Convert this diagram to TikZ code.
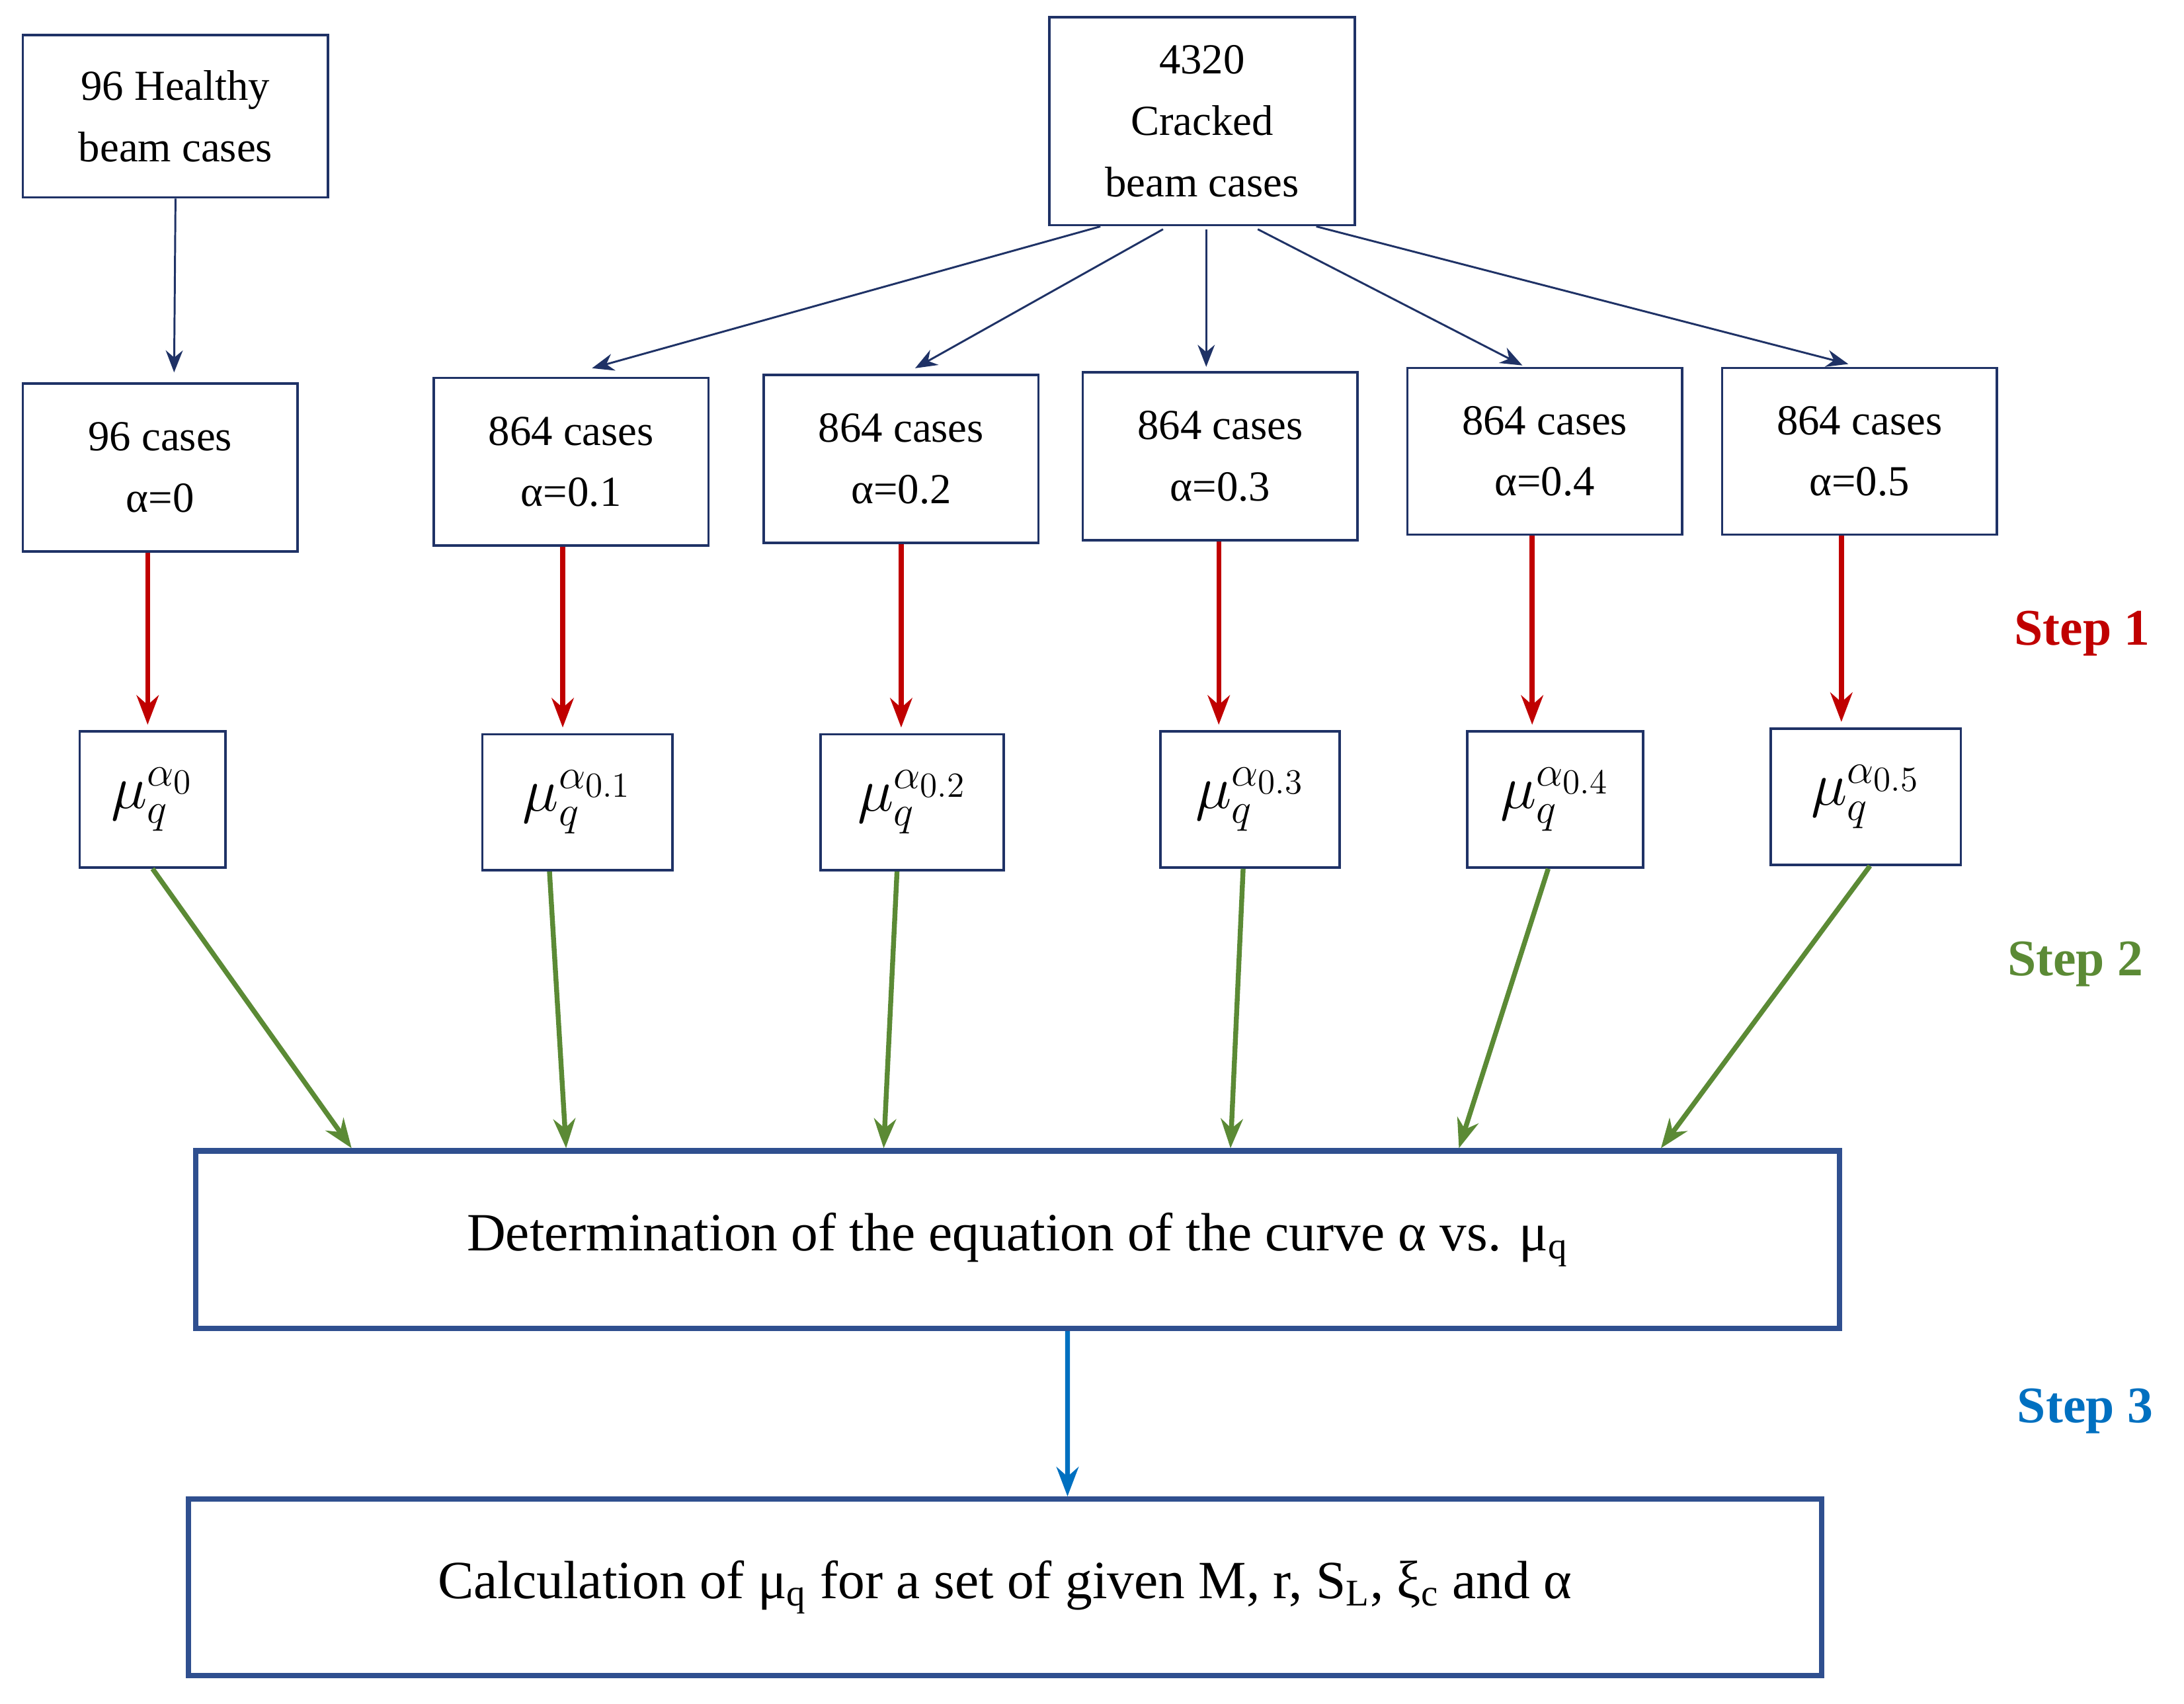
\documentclass[tikz,border=0pt]{standalone}
\usepackage{fontspec}
\setmainfont{Liberation Serif}
\usetikzlibrary{calc,arrows.meta}
\definecolor{navy}{HTML}{1F3266}
\definecolor{bigb}{HTML}{2F4F8F}
\definecolor{redA}{HTML}{C00000}
\definecolor{grnA}{HTML}{5B8A35}
\definecolor{bluA}{HTML}{0070C0}
\newcommand\B[7]{\node[#1, minimum width={(#5-#3)*0.5669pt}, minimum height={(#6-#4)*0.5669pt}] (#2) at ({(#3+#5)/2},{(#4+#6)/2}) {#7};}
\begin{document}
\begin{tikzpicture}[x=0.02cm,y=-0.02cm,
  box/.style={draw=navy,line width=1pt,inner sep=0pt,align=center,font=\fontsize{17.5}{25}\selectfont},
  mbox/.style={draw=navy,line width=1pt,inner sep=0pt,font=\fontsize{27}{30}\selectfont},
  big/.style={draw=bigb,line width=2.2pt,inner sep=0pt,font=\fontsize{22}{26}\selectfont},
  na/.style={draw=navy,line width=0.8pt,-{Stealth[length=9pt,width=7pt]}},
  ra/.style={draw=redA,line width=2pt,-{Stealth[length=12pt,width=9pt]}},
  ga/.style={draw=grnA,line width=2pt,-{Stealth[length=12pt,width=9pt]}},
  ba/.style={draw=bluA,line width=2pt,-{Stealth[length=12pt,width=9pt]}},
  steplbl/.style={font=\bfseries\fontsize{21}{24}\selectfont}]
\useasboundingbox (0,0) rectangle (1568,1223);
\B{box}{h}{16}{25}{236}{142}{96 Healthy\\beam cases}
\B{box}{cr}{753}{12}{973}{162}{4320\\Cracked\\beam cases}
\B{box}{c0}{16}{275}{214}{396}{96 cases\\α=0}
\B{box}{c1}{311}{271}{509}{392}{864 cases\\α=0.1}
\B{box}{c2}{548}{269}{746}{390}{864 cases\\α=0.2}
\B{box}{c3}{777}{267}{975}{388}{864 cases\\α=0.3}
\B{box}{c4}{1010}{264}{1208}{384}{864 cases\\α=0.4}
\B{box}{c5}{1236}{264}{1434}{384}{864 cases\\α=0.5}
\B{mbox}{m0}{57}{525}{162}{623}{$\mu_q^{\alpha_0}$}
\B{mbox}{m1}{346}{527}{483}{625}{$\mu_q^{\alpha_{0.1}}$}
\B{mbox}{m2}{589}{527}{721}{625}{$\mu_q^{\alpha_{0.2}}$}
\B{mbox}{m3}{833}{525}{962}{623}{$\mu_q^{\alpha_{0.3}}$}
\B{mbox}{m4}{1053}{525}{1180}{623}{$\mu_q^{\alpha_{0.4}}$}
\B{mbox}{m5}{1271}{523}{1408}{621}{$\mu_q^{\alpha_{0.5}}$}
\B{big}{d}{138}{826}{1323}{954}{Determination of the equation of the curve α vs. μ\textsubscript{q}}
\B{big}{k}{133}{1076}{1310}{1203}{Calculation of μ\textsubscript{q} for a set of given M, r, S\textsubscript{L}, ξ\textsubscript{c} and α}
\node[steplbl,text=redA] (s1) at (1495,455) {Step 1};
\node[steplbl,text=grnA] (s2) at (1490,692) {Step 2};
\node[steplbl,text=bluA] (s3) at (1497,1013) {Step 3};
\draw[na] (h.south) -- ($(c0.north)+(10,-7)$);
\draw[na] ($(cr.south)+(-73,0)$) -- ($(c1.north)+(15,-6)$);
\draw[na] ($(cr.south)+(-28,2)$) -- ($(c2.north)+(10,-4)$);
\draw[na] ($(cr.south)+(3,2)$) -- ($(c3.north)+(-10,-3)$);
\draw[na] ($(cr.south)+(40,2)$) -- ($(c4.north)+(-16,-1)$);
\draw[na] ($(cr.south)+(82,0)$) -- ($(c5.north)+(-8,-2)$);
\foreach \i/\dx in {0/-9,1/-6,2/0,3/-1,4/-9,5/-13}
  \draw[ra] ($(c\i.south)+(\dx,0)$) -- ($(m\i.north -| c\i.south)+(\dx,-4)$);
\draw[ga] ($(m0.south)+(0,0)$) -- ($(d.north west)+(114,0)$);
\draw[ga] ($(m1.south)+(-20,0)$) -- ($(d.north west)+(268,0)$);
\draw[ga] ($(m2.south)+(-11,0)$) -- ($(d.north west)+(496,0)$);
\draw[ga] ($(m3.south)+(-5,0)$) -- ($(d.north west)+(745,0)$);
\draw[ga] ($(m4.south)+(-5,0)$) -- ($(d.north west)+(909,0)$);
\draw[ga] ($(m5.south)+(3,0)$) -- ($(d.north west)+(1054,0)$);
\draw[ba] ($(d.south west)+(628,0)$) -- ($(k.north west)+(633,0)$);
\end{tikzpicture}
\end{document}
